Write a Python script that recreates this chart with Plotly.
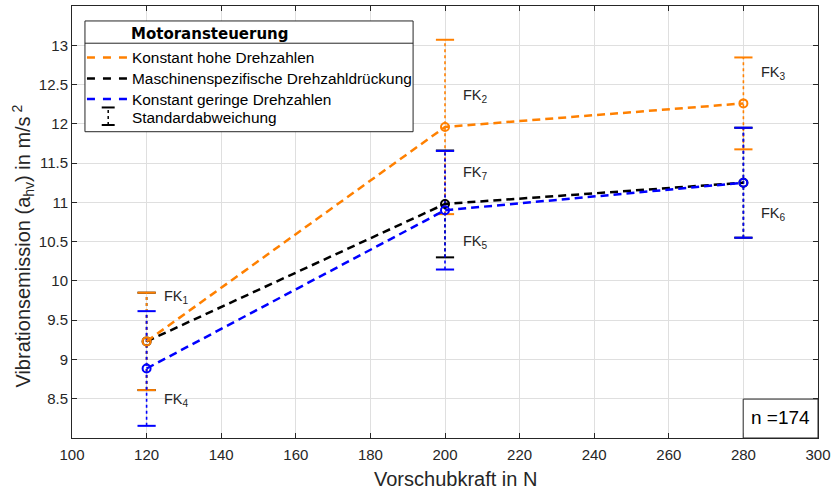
import plotly.graph_objects as go

# Vorschubkraft (N) at which the measurements were taken
force = [120, 200, 280]

# Mean vibration emission a_hv (m/s^2) and standard deviation per control strategy
hohe_mean = [9.23, 11.96, 12.26]
hohe_sd = [0.62, 1.11, 0.585]
spez_mean = [9.23, 10.98, 11.25]
spez_sd = [0.62, 0.68, 0.70]
gering_mean = [8.885, 10.90, 11.25]
gering_sd = [0.73, 0.755, 0.70]

series_names = [
    "Konstant hohe Drehzahlen",
    "Maschinenspezifische Drehzahldrückung",
    "Konstant geringe Drehzahlen",
]
legend_title = "Motoransteuerung"
sd_label = "Standardabweichung"

# Labels of the individual test configurations
fk_labels = ["FK<sub>1</sub>", "FK<sub>2</sub>", "FK<sub>3</sub>", "FK<sub>4</sub>",
             "FK<sub>5</sub>", "FK<sub>6</sub>", "FK<sub>7</sub>"]
fk_x = [124.2, 204.2, 284.1, 124.2, 204.2, 284.1, 204.2]
fk_y = [9.80, 12.36, 12.65, 8.49, 10.49, 10.85, 11.37]

sample_text = "n =174"

x_ticks = list(range(100, 301, 20))
y_ticks = [8.5, 9, 9.5, 10, 10.5, 11, 11.5, 12, 12.5, 13]

ORANGE = "#ff8000"
BLACK = "#000000"
BLUE = "#0000ff"
AXIS = "#262626"
FONT = "Liberation Sans, Arial, sans-serif"

W, H = 836, 493
ML, MR, MT, MB = 72, 16, 5, 55


def px(x):
    return (x - ML) / (W - ML - MR)


def py(y):
    return (H - MB - y) / (H - MT - MB)


fig = go.Figure()

series = [
    (spez_mean, spez_sd, BLACK),
    (hohe_mean, hohe_sd, ORANGE),
    (gering_mean, gering_sd, BLUE),
]

# dotted standard-deviation bars with caps
for mean, sd, color in series:
    bx, by, cx, cy = [], [], [], []
    for x, m, s in zip(force, mean, sd):
        bx += [x, x, None]
        by += [m - s, m + s, None]
        cx += [x, x]
        cy += [m - s, m + s]
    fig.add_trace(go.Scatter(x=bx, y=by, mode="lines", showlegend=False, hoverinfo="skip",
                             line=dict(color=color, width=1.6, dash="dot")))
    fig.add_trace(go.Scatter(x=cx, y=cy, mode="markers", showlegend=False, hoverinfo="skip",
                             marker=dict(symbol="line-ew", size=13,
                                         line=dict(color=color, width=2))))

# dashed mean lines with open circle markers
for (mean, sd, color), name in zip(series, [series_names[1], series_names[0], series_names[2]]):
    fig.add_trace(go.Scatter(x=force, y=mean, mode="lines+markers", name=name, showlegend=False,
                             line=dict(color=color, width=2.5, dash="8px,5px"),
                             marker=dict(symbol="circle-open", size=8,
                                         line=dict(color=color, width=2))))

annotations = []
for t, x, y in zip(fk_labels, fk_x, fk_y):
    annotations.append(dict(x=x, y=y, xref="x", yref="y", text=t, showarrow=False,
                            xanchor="left", yanchor="middle",
                            font=dict(family=FONT, size=14.5, color=AXIS)))

# axis titles
annotations.append(dict(x=px(457), y=py(479), xref="paper", yref="paper",
                        text="Vorschubkraft in N", showarrow=False,
                        xanchor="center", yanchor="middle",
                        font=dict(family=FONT, size=20, color=AXIS)))
annotations.append(dict(x=px(23), y=py(246), xref="paper", yref="paper",
                        text="Vibrationsemission (a<sub>hv</sub>) in m/s<sup> 2</sup>",
                        showarrow=False, textangle=-90,
                        xanchor="center", yanchor="middle",
                        font=dict(family=FONT, size=20, color=AXIS)))

shapes = []
# legend box
shapes.append(dict(type="rect", xref="paper", yref="paper",
                   x0=px(85), x1=px(414), y0=py(131), y1=py(20),
                   fillcolor="white", line=dict(color=AXIS, width=1)))
shapes.append(dict(type="line", xref="paper", yref="paper",
                   x0=px(85), x1=px(414), y0=py(42.3), y1=py(42.3),
                   line=dict(color=AXIS, width=1)))
annotations.append(dict(x=px(129.5), y=py(33), xref="paper", yref="paper",
                        text="<b>" + legend_title + "</b>", showarrow=False,
                        xanchor="left", yanchor="middle",
                        font=dict(family="DejaVu Sans", size=15, color=BLACK)))
entry_rows = [56.7, 77.7, 98.3]
for row, name, color in zip(entry_rows, series_names, [ORANGE, BLACK, BLUE]):
    shapes.append(dict(type="line", xref="paper", yref="paper",
                       x0=px(87), x1=px(128), y0=py(row), y1=py(row),
                       line=dict(color=color, width=2.5, dash="8px,8px")))
    annotations.append(dict(x=px(130), y=py(row), xref="paper", yref="paper",
                            text=name, showarrow=False, xanchor="left", yanchor="middle",
                            font=dict(family=FONT, size=15.4, color=BLACK)))
# standard deviation symbol
shapes.append(dict(type="line", xref="paper", yref="paper",
                   x0=px(108.3), x1=px(108.3), y0=py(124.3), y1=py(106.7),
                   line=dict(color=BLACK, width=1.5, dash="dot")))
for cy in (106.7, 124.3):
    shapes.append(dict(type="line", xref="paper", yref="paper",
                       x0=px(101.8), x1=px(114.8), y0=py(cy), y1=py(cy),
                       line=dict(color=BLACK, width=2)))
annotations.append(dict(x=px(130), y=py(116.7), xref="paper", yref="paper",
                        text=sd_label, showarrow=False, xanchor="left", yanchor="middle",
                        font=dict(family=FONT, size=15.4, color=BLACK)))

# sample size box
shapes.append(dict(type="rect", xref="paper", yref="paper",
                   x0=px(745), x1=px(820), y0=py(438), y1=py(399),
                   fillcolor="white", line=dict(color=AXIS, width=1)))
annotations.append(dict(x=px(782), y=py(417), xref="paper", yref="paper",
                        text=sample_text, showarrow=False, xanchor="center", yanchor="middle",
                        font=dict(family=FONT, size=19, color=BLACK)))

axis_common = dict(showline=True, linecolor=AXIS, linewidth=1, mirror="allticks",
                   ticks="inside", ticklen=5, tickcolor=AXIS, tickwidth=1,
                   showgrid=True, gridcolor="#dfdfdf", gridwidth=1, zeroline=False,
                   tickfont=dict(family=FONT, size=15, color=AXIS))

fig.update_layout(
    width=W, height=H,
    margin=dict(l=ML, r=MR, t=MT, b=MB),
    paper_bgcolor="white", plot_bgcolor="white",
    showlegend=False,
    xaxis=dict(range=[100, 300], tickvals=x_ticks, ticktext=[str(v) for v in x_ticks],
               ticklabelstandoff=3, **axis_common),
    yaxis=dict(range=[8, 13.5], tickvals=y_ticks, ticktext=[f"{v:g}" for v in y_ticks],
               **axis_common),
    shapes=shapes,
    annotations=annotations,
)

fig.write_html("out.html")
